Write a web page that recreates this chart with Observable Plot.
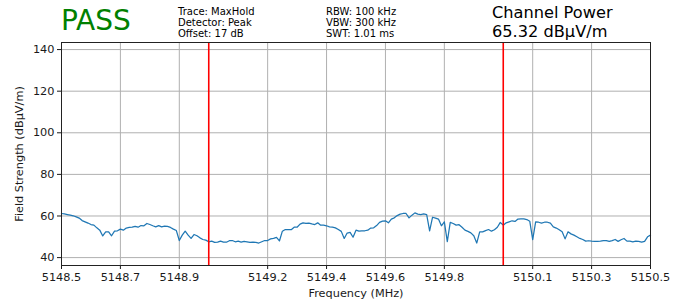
<!DOCTYPE html>
<html>
<head>
<meta charset="utf-8">
<script src="https://cdn.jsdelivr.net/npm/d3@7"></script>
<script src="https://cdn.jsdelivr.net/npm/@observablehq/plot@0.6"></script>
<style>
  html, body { margin: 0; padding: 0; background: #fff; }
  #wrap { position: relative; width: 673px; height: 303px; font-family: "DejaVu Sans", sans-serif; }
  .hdr { position: absolute; white-space: nowrap; color: #000; }
</style>
</head>
<body>
<div id="wrap"></div>
<script>
// ---- data ----
const verdict = "PASS";
const infoCol1 = ["Trace: MaxHold", "Detector: Peak", "Offset: 17 dB"];
const infoCol2 = ["RBW: 100 kHz", "VBW: 300 kHz", "SWT: 1.01 ms"];
const powerTitle = "Channel Power";
const powerValue = "65.32 dBµV/m";

const freqStart = 5148.5;   // MHz, sweep start
const freqStep = 0.01;      // MHz, sweep point spacing
const fieldStrength = [
  61.2, 61.0, 60.7, 60.4, 60.1, 59.6, 59.0, 57.8, 57.2, 56.6,
  55.9, 55.6, 54.3, 53.2, 50.4, 52.4, 52.4, 50.5, 52.7, 52.9,
  53.7, 53.2, 54.2, 54.5, 54.6, 55.0, 54.6, 55.4, 55.3, 56.4,
  55.9, 55.3, 54.8, 55.4, 54.8, 55.1, 55.0, 54.5, 53.7, 53.0,
  48.2, 50.8, 52.7, 50.8, 49.2, 51.1, 50.5, 49.5, 48.7, 48.4,
  47.6, 47.9, 47.3, 47.4, 47.9, 47.4, 47.4, 48.1, 48.2, 47.6,
  47.9, 47.4, 47.8, 47.6, 47.3, 47.4, 47.3, 47.0, 47.6, 48.2,
  48.2, 49.0, 49.2, 49.7, 48.0, 52.7, 53.5, 53.5, 53.4, 54.6,
  54.6, 56.1, 56.7, 56.4, 56.6, 56.2, 55.9, 56.7, 55.6, 55.6,
  55.3, 54.8, 54.6, 54.3, 53.5, 52.6, 49.2, 51.8, 52.1, 49.8,
  53.2, 52.7, 52.9, 52.9, 53.2, 54.2, 54.3, 55.4, 56.9, 57.5,
  57.7, 56.7, 58.5, 59.1, 60.2, 60.9, 61.2, 61.2, 59.1, 60.4,
  61.5, 60.9, 60.7, 61.0, 60.7, 52.8, 59.4, 59.0, 58.5, 55.3,
  57.2, 47.7, 56.9, 56.4, 55.6, 55.8, 54.6, 53.2, 52.6, 51.9,
  50.5, 47.0, 52.4, 52.4, 53.0, 53.5, 52.7, 53.4, 54.6, 56.9,
  55.6, 56.7, 57.2, 57.7, 57.4, 58.5, 58.6, 58.6, 58.3, 57.5,
  48.6, 57.2, 57.0, 56.6, 57.0, 57.0, 56.6, 54.8, 54.2, 53.4,
  52.4, 49.0, 52.4, 51.4, 50.8, 50.0, 49.2, 48.7, 47.9, 48.1,
  47.9, 47.8, 47.8, 47.9, 48.2, 48.2, 47.8, 48.2, 48.7, 47.8,
  48.6, 49.2, 47.9, 47.9, 47.6, 47.9, 47.8, 47.4, 47.8, 50.0,
  50.8
];
const xTicks = [5148.5, 5148.7, 5148.9, 5149.2, 5149.4, 5149.6, 5149.8, 5150.1, 5150.3, 5150.5];
const yTicks = [40, 60, 80, 100, 120, 140];
const markerFreqs = [5149.0, 5150.0];

// ---- build ----
const trace = fieldStrength.map((v, i) => ({f: freqStart + i * freqStep, v}));
const wrap = document.getElementById("wrap");

const chart = Plot.plot({
  width: 673,
  height: 303,
  marginTop: 42,
  marginBottom: 38,
  marginLeft: 61,
  marginRight: 23,
  style: {fontFamily: "DejaVu Sans", fontSize: "11px", color: "#1a1a1a", background: "white", overflow: "visible"},
  x: {domain: [5148.5, 5150.5]},
  y: {domain: [36.2, 143.4]},
  marks: [
    Plot.gridX(xTicks, {stroke: "#b0b0b0", strokeOpacity: 1, strokeWidth: 1}),
    Plot.gridY(yTicks, {stroke: "#b0b0b0", strokeOpacity: 1, strokeWidth: 1}),
    Plot.line(trace, {x: "f", y: "v", stroke: "#1f77b4", strokeWidth: 1.25}),
    Plot.ruleX(markerFreqs, {stroke: "red", strokeWidth: 1.6}),
    Plot.axisX(xTicks, {tickFormat: d => d.toFixed(1), tickSize: 4, tickPadding: 3, fontSize: 11.3,
      label: "Frequency (MHz)", labelAnchor: "center", labelArrow: "none", labelOffset: 31}),
    Plot.axisY(yTicks, {tickSize: 4, tickPadding: 3, fontSize: 11.3,
      label: "Field Strength (dBµV/m)", labelAnchor: "center", labelArrow: "none", labelOffset: 47}),
    Plot.frame({stroke: "#222", strokeWidth: 1})
  ]
});
chart.style.position = "absolute";
chart.style.left = "0px";
chart.style.top = "0px";
wrap.appendChild(chart);

function addText(lines, left, top, size, lineH, color) {
  const d = document.createElement("div");
  d.className = "hdr";
  d.style.left = left + "px";
  d.style.top = top + "px";
  d.style.fontSize = size + "px";
  d.style.lineHeight = lineH + "px";
  d.style.color = color;
  lines.forEach((t, i) => {
    const s = document.createElement("div");
    s.textContent = t;
    d.appendChild(s);
  });
  wrap.appendChild(d);
}
addText([verdict], 61, 4, 28, 34, "#008000");
addText(infoCol1, 178, 6, 10, 11, "#000");
addText(infoCol2, 326, 6, 10, 11, "#000");
addText([powerTitle], 492, 3, 16.2, 19, "#000");
addText([powerValue], 492, 22, 16.2, 19, "#000");
</script>
</body>
</html>
